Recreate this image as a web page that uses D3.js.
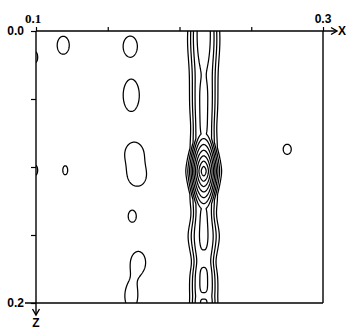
<!DOCTYPE html>
<html>
<head>
<meta charset="utf-8">
<script src="https://cdnjs.cloudflare.com/ajax/libs/d3/7.8.5/d3.min.js"></script>
<style>
  html, body { margin: 0; padding: 0; background: #fff; }
  svg { display: block; }
</style>
</head>
<body>
<svg id="chart" width="348" height="330"></svg>
<script>
// axis ticks (x across, z downwards)
const xTicks = [0.1, 0.15, 0.2, 0.25, 0.3];
const zTicks = [0, 0.05, 0.1, 0.15, 0.2];
const xTickLabels = ['0.1', '', '', '', '0.3'];
const zTickLabels = ['0.0', '', '', '', '0.2'];

// contour levels
const levels = [1, 2, 3, 4, 5, 6, 7, 8, 9, 10];

// the vertical density ridge
const ridgeX = 0.2167;
const ridgeWidth = 0.0070;
const ridgeBase = 3.7;

// weak maxima along the ridge
const bumpZ   = [-0.0154, 0.0588, 0.1449, 0.1831, 0.2015];
const bumpAmp = [0.75, 0.43, 0.42, 0.42, 0.36];
const bumpW   = [0.0382, 0.0206, 0.0176, 0.0101, 0.0047];

// where the ridge swells or narrows
const swellZ   = [0.0066, 0.0713, 0.1338, 0.1507, 0.1699];
const swellRel = [0.12, -0.08, -0.10, 0.10, -0.12];
const swellW   = [0.0132, 0.0088, 0.0059, 0.0059, 0.0059];

// the main peak on the ridge
const mainX = 0.2167, mainZ = 0.1029, mainAmp = 7.2;
const mainRx = 0.0140, mainRz = 0.0280;

// isolated low peaks
const peakX   = [0.1188, 0.1655, 0.1662, 0.1683, 0.1704, 0.1669, 0.1711, 0.1662, 0.1202, 0.0993, 0.0993, 0.2749];
const peakZ   = [0.0103, 0.0110, 0.0471, 0.0897, 0.1074, 0.1360, 0.1699, 0.1949, 0.1022, 0.0191, 0.1022, 0.0868];
const peakAmp = [1.65, 1.65, 1.65, 1.4, 1.4, 1.65, 1.5, 1.5, 1.65, 1.65, 1.65, 1.65];
const peakSx  = [0.0042, 0.0049, 0.0056, 0.0077, 0.0063, 0.0028, 0.0056, 0.0049, 0.0017, 0.0017, 0.0017, 0.0028];
const peakSz  = [0.0066, 0.0074, 0.0118, 0.0096, 0.0074, 0.0044, 0.0088, 0.0103, 0.0033, 0.0040, 0.0037, 0.0037];

const svg = d3.select('#chart');
const pLeft = 36, pRight = 323, pTop = 31, pBottom = 303;

const x = d3.scaleLinear().domain([0.1, 0.3]).range([pLeft, pRight]);
const z = d3.scaleLinear().domain([0, 0.2]).range([pTop, pBottom]);

function density(xv, zv) {
  let a = ridgeBase;
  for (let k = 0; k < bumpZ.length; k++) {
    const u = (zv - bumpZ[k]) / bumpW[k];
    a += bumpAmp[k] * Math.exp(-0.5 * u * u * u * u);
  }
  let s = 1;
  for (let k = 0; k < swellZ.length; k++) {
    const u = (zv - swellZ[k]) / swellW[k];
    s += swellRel[k] * Math.exp(-0.5 * u * u);
  }
  const d = Math.abs((xv - ridgeX) / (ridgeWidth * s));
  let v = a * Math.exp(-0.5 * d * d * d);

  // lemon-shaped cone for the main peak
  const q = 1.6;
  const r = Math.pow(
    Math.pow(Math.abs((xv - mainX) / mainRx), q) +
    Math.pow(Math.abs((zv - mainZ) / mainRz), q), 1 / q);
  v += mainAmp * Math.max(0, 1 - r);

  for (let k = 0; k < peakX.length; k++) {
    const ux = (xv - peakX[k]) / peakSx[k];
    const uz = (zv - peakZ[k]) / peakSz[k];
    v += peakAmp[k] * Math.exp(-0.5 * (ux * ux + uz * uz));
  }
  return v;
}

// sample the field on a pixel grid a bit larger than the plot
const step = 0.5;
const gx0 = pLeft - 10, gy0 = pTop - 10;
const nx = Math.round((pRight - pLeft + 20) / step);
const ny = Math.round((pBottom - pTop + 20) / step);
const values = new Float64Array(nx * ny);
for (let j = 0; j < ny; j++) {
  const zv = z.invert(gy0 + j * step);
  for (let i = 0; i < nx; i++) {
    values[j * nx + i] = density(x.invert(gx0 + i * step), zv);
  }
}

const contours = d3.contours().size([nx, ny]).thresholds(levels)(values);
const path = d3.geoPath(d3.geoIdentity().scale(step).translate([gx0, gy0]));

svg.append('clipPath').attr('id', 'plot-clip')
  .append('rect')
  .attr('x', pLeft).attr('y', pTop)
  .attr('width', pRight - pLeft).attr('height', pBottom - pTop);

svg.append('g')
  .attr('clip-path', 'url(#plot-clip)')
  .selectAll('path')
  .data(contours)
  .join('path')
  .attr('d', path)
  .attr('fill', 'none')
  .attr('stroke', '#000')
  .attr('stroke-width', 1.25)
  .attr('stroke-linejoin', 'round');

// ticks
const xAxis = svg.append('g')
  .attr('transform', `translate(0,${pTop})`)
  .call(d3.axisTop(x).tickValues(xTicks).tickSize(4).tickSizeOuter(0).tickFormat(''));
const zAxis = svg.append('g')
  .attr('transform', `translate(${pLeft},0)`)
  .call(d3.axisLeft(z).tickValues(zTicks).tickSize(5).tickSizeOuter(0).tickFormat(''));
[xAxis, zAxis].forEach(g => {
  g.select('.domain').remove();
  g.selectAll('line').attr('stroke', '#000').attr('stroke-width', 1.2);
});

const frame = svg.append('g')
  .attr('fill', 'none')
  .attr('stroke', '#000')
  .attr('stroke-width', 1.4);

// top axis with arrow
frame.append('line').attr('x1', pLeft).attr('y1', pTop).attr('x2', 336).attr('y2', pTop);
frame.append('path').attr('d', `M331,${pTop - 3.5}L337,${pTop}L331,${pTop + 3.5}`);
// left axis with arrow
frame.append('line').attr('x1', pLeft).attr('y1', pTop).attr('x2', pLeft).attr('y2', 314);
frame.append('path').attr('d', `M${pLeft - 3.5},309L${pLeft},315L${pLeft + 3.5},309`);
// right and bottom border
frame.append('line').attr('x1', pRight).attr('y1', pTop).attr('x2', pRight).attr('y2', pBottom);
frame.append('line').attr('x1', 25).attr('y1', pBottom).attr('x2', pRight).attr('y2', pBottom);

// labels
const lab = svg.append('g')
  .attr('font-family', '"Liberation Sans", Arial, sans-serif')
  .attr('font-weight', 'bold')
  .attr('font-size', 12)
  .attr('fill', '#000');

xTickLabels.forEach((t, i) => {
  if (!t) return;
  lab.append('text')
    .attr('x', x(xTicks[i]) - (i === 0 ? 3 : 0))
    .attr('y', pTop - 8)
    .attr('text-anchor', 'middle')
    .attr('font-family', i === 0 ? '"Liberation Serif", serif' : null)
    .attr('font-size', i === 0 ? 13 : null)
    .text(t);
});
zTickLabels.forEach((t, i) => {
  if (!t) return;
  lab.append('text')
    .attr('x', 24)
    .attr('y', z(zTicks[i]))
    .attr('dy', '0.36em')
    .attr('text-anchor', 'end')
    .text(t);
});
lab.append('text').attr('x', 338).attr('y', pTop).attr('dy', '0.36em').text('X');
lab.append('text').attr('x', pLeft).attr('y', 327).attr('text-anchor', 'middle').text('Z');
</script>
</body>
</html>
